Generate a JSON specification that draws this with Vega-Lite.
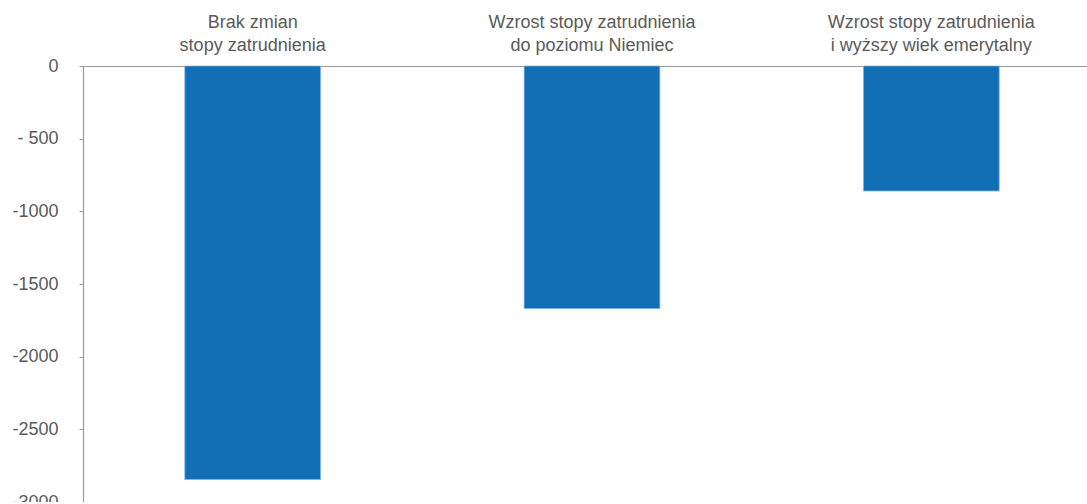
{
  "$schema": "https://vega.github.io/schema/vega-lite/v6.json",
  "autosize": {"type": "none"},
  "padding": {"left": 83, "top": 66, "right": 0, "bottom": 0},
  "width": 1018,
  "height": 436,
  "background": "white",
  "config": {"view": {"stroke": null}, "font": "Liberation Sans"},
  "data": {"values": [
    {"scenario": "Brak zmian|stopy zatrudnienia", "order": 1, "value": -2845},
    {"scenario": "Wzrost stopy zatrudnienia|do poziomu Niemiec", "order": 2, "value": -1669},
    {"scenario": "Wzrost stopy zatrudnienia|i wyższy wiek emerytalny", "order": 3, "value": -860}
  ]},
  "mark": {"type": "bar", "color": "#126fb6", "stroke": "#7db4e6", "strokeWidth": 0.8},
  "encoding": {
    "x": {
      "field": "scenario", "type": "nominal", "sort": {"field": "order"},
      "scale": {"paddingInner": 0.6, "paddingOuter": 0.3},
      "axis": {
        "orient": "top", "title": null, "ticks": false, "labelAngle": 0,
        "labelExpr": "split(datum.label, '|')", "labelLimit": 0,
        "labelFontSize": 18, "labelColor": "#5a5a5a", "labelLineHeight": 23.5,
        "labelPadding": 35, "domainColor": "#999999", "domainWidth": 1.2
      }
    },
    "y": {
      "field": "value", "type": "quantitative",
      "scale": {"domain": [-3000, 0], "nice": false},
      "axis": {
        "title": null, "grid": false, "values": [0, -500, -1000, -1500, -2000, -2500, -3000],
        "labelExpr": "datum.value == 0 ? '0' : (datum.value == -500 ? '- 500' : '-' + abs(datum.value))",
        "labelFontSize": 18, "labelColor": "#5a5a5a", "labelPadding": 21,
        "tickSize": 4, "tickColor": "#999999", "domainColor": "#999999", "domainWidth": 1.2
      }
    }
  }
}
